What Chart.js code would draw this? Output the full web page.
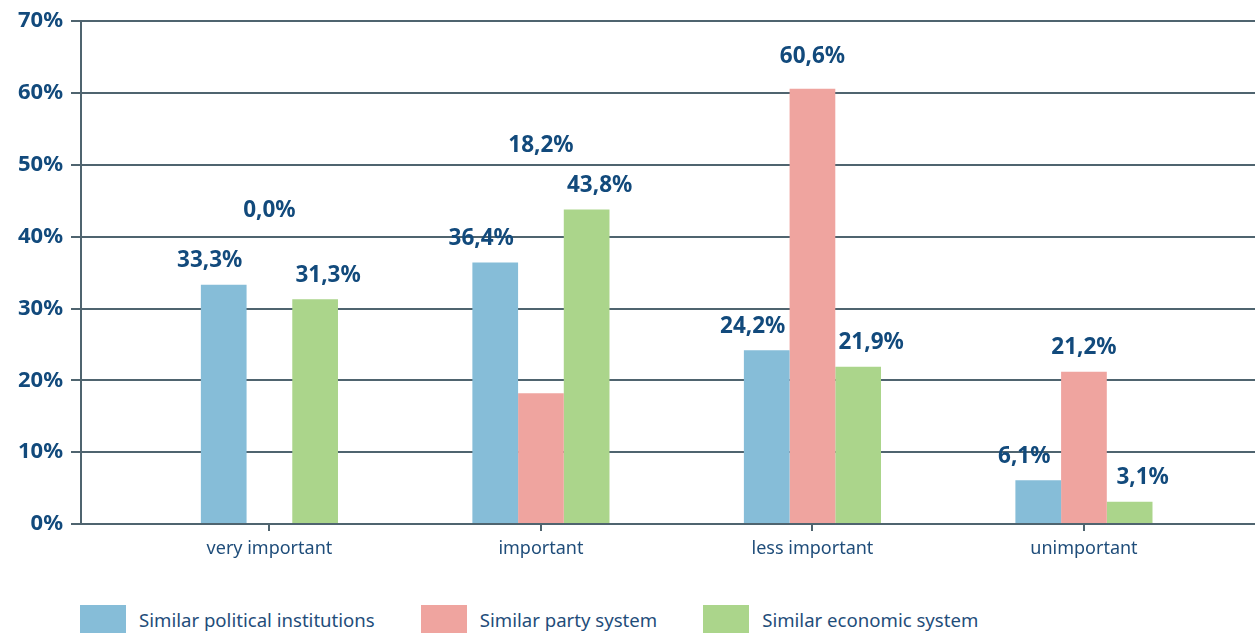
<!DOCTYPE html>
<html>
<head>
<meta charset="utf-8">
<script src="https://cdn.jsdelivr.net/npm/chart.js@4"></script>
<style>
    body { margin: 0; background: #fff; font-family: "Noto Sans", sans-serif; }
    #wrap { position: relative; width: 1255px; height: 638px; }
    #box { position: absolute; left: 0; top: 0; width: 1255px; height: 590px; }
    #legend { position: absolute; left: 80px; top: 605px; display: flex; }
    .item { display: flex; align-items: center; margin-right: 46px; }
    .swatch { width: 46px; height: 28px; margin-right: 13px; }
    .item span { font-size: 18.6px; color: #1f4d7a; }
</style>
</head>
<body>
<div id="wrap">
    <div id="box"><canvas id="importanceChart"></canvas></div>
    <div id="legend"></div>
</div>
<script>
// chart values
var categories = ['very important', 'important', 'less important', 'unimportant'];
var seriesNames = ['Similar political institutions', 'Similar party system', 'Similar economic system'];
var politicalInstitutions = [33.3, 36.4, 24.2, 6.1];
var partySystem = [0.0, 18.2, 60.6, 21.2];
var economicSystem = [31.3, 43.8, 21.9, 3.1];
var yTicks = [0, 10, 20, 30, 40, 50, 60, 70];

var colors = ['#86bdd8', '#efa49f', '#abd58b'];
var gridColor = '#4f646f';
var labelBlue = '#124a7c';

function toPoints(values) {
    return values.map(function(v, i) { return { x: i, y: v }; });
}

// value labels above the bars (the reference puts two of them oddly high)
var valueLabels = {
    id: 'valueLabels',
    afterDatasetsDraw: function(chart, args, opts) {
        var ctx = chart.ctx;
        var yScale = chart.scales.y;
        ctx.save();
        ctx.font = 'bold 22.5px "Noto Sans"';
        ctx.fillStyle = labelBlue;
        ctx.textAlign = 'center';
        ctx.textBaseline = 'middle';
        chart.data.datasets.forEach(function(ds, d) {
            chart.getDatasetMeta(d).data.forEach(function(bar, i) {
                var v = ds.data[i].y;
                var top = bar.y;
                var ov = opts.anchors[d] && opts.anchors[d][i];
                if (ov !== undefined) top = yScale.getPixelForValue(ov);
                var txt = v.toFixed(1).replace('.', ',') + '%';
                ctx.fillText(txt, bar.x + opts.shift[d], top - 24);
            });
        });
        ctx.restore();
    }
};

var ctx = document.getElementById('importanceChart').getContext('2d');
var chart = new Chart(ctx, {
    type: 'bar',
    data: {
        datasets: [politicalInstitutions, partySystem, economicSystem].map(function(vals, d) {
            return {
                label: seriesNames[d],
                data: toPoints(vals),
                backgroundColor: colors[d],
                borderWidth: 0,
                categoryPercentage: 0.505,
                barPercentage: 1.0
            };
        })
    },
    options: {
        responsive: true,
        maintainAspectRatio: false,
        animation: false,
        layout: { padding: { top: 20, right: 0, left: 0, bottom: 0 } },
        scales: {
            x: {
                type: 'linear',
                min: -0.694,
                max: 3.63,
                offset: false,
                afterFit: function(scale) { scale.height = 66; },
                grid: { offset: false, drawOnChartArea: false, color: gridColor, lineWidth: 2, tickLength: 7 },
                border: { color: gridColor, width: 2 },
                ticks: {
                    stepSize: 1,
                    includeBounds: false,
                    autoSkip: false,
                    maxRotation: 0,
                    padding: 7,
                    color: '#1f4d7a',
                    font: { family: 'Noto Sans', size: 18 },
                    callback: function(v) { return categories[v] !== undefined ? categories[v] : ''; }
                }
            },
            y: {
                min: yTicks[0],
                max: yTicks[yTicks.length - 1],
                afterFit: function(scale) { scale.width = 81; },
                grid: { color: gridColor, lineWidth: 2, tickLength: 10 },
                border: { color: gridColor, width: 2 },
                ticks: {
                    stepSize: 10,
                    padding: 8,
                    color: labelBlue,
                    font: { family: 'Noto Sans', size: 22, weight: 'bold' },
                    callback: function(v) { return v + '%'; }
                }
            }
        },
        plugins: {
            legend: { display: false },
            tooltip: { enabled: false },
            valueLabels: {
                shift: [-14, 0, 13],
                anchors: { 1: { 0: 40.3, 1: 49.3, 2: 61.7 } }
            }
        }
    },
    plugins: [valueLabels]
});

// legend built from the datasets
var legend = document.getElementById('legend');
chart.data.datasets.forEach(function(ds) {
    var item = document.createElement('div');
    item.className = 'item';
    var sw = document.createElement('div');
    sw.className = 'swatch';
    sw.style.background = ds.backgroundColor;
    var t = document.createElement('span');
    t.textContent = ds.label;
    item.appendChild(sw);
    item.appendChild(t);
    legend.appendChild(item);
});
</script>
</body>
</html>
